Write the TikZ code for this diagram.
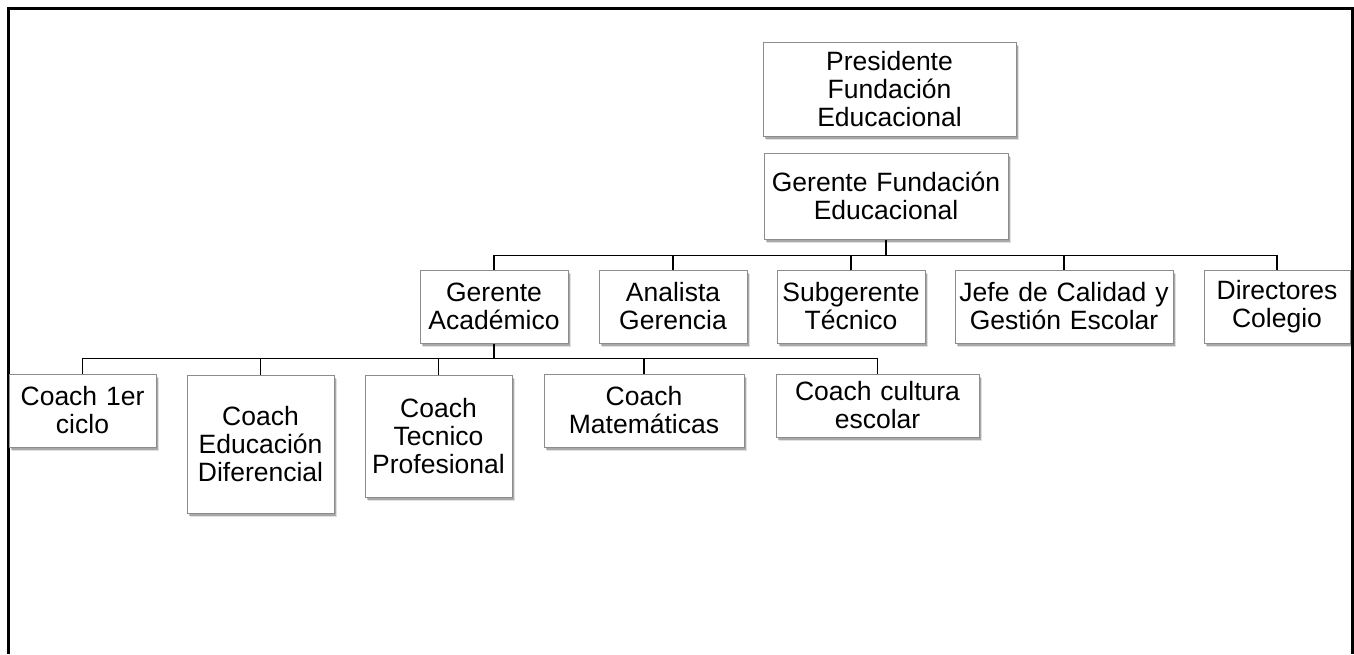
\documentclass[tikz,border=0pt]{standalone}
\usepackage{fontspec}
\setmainfont{Liberation Sans}
\usetikzlibrary{shadows}

\tikzset{
    orgbox/.style={draw=black!45, line width=1pt, fill=white, align=center,
        inner xsep=4pt, inner ysep=0pt,
        font=\fontsize{26.5}{28}\selectfont,
        drop shadow={shadow xshift=2.5pt, shadow yshift=-3.5pt, fill=black, opacity=0.12},
        drop shadow={shadow xshift=1.5pt, shadow yshift=-2.5pt, fill=black, opacity=0.25}},
    orgline/.style={line width=1.8pt, black}
}

\begin{document}
\begin{tikzpicture}[x=1pt, y=-1pt]
    \useasboundingbox (0,0) rectangle (1354,654);
    \draw[line width=3pt] (8,654) -- (8,8) -- (1352,8) -- (1352,654);

    \node[orgbox, text width=245pt, minimum height=94pt] (pres) at (889.5,89) {Presidente\\Fundación\\Educacional};
    \node[orgbox, text width=236pt, minimum height=86pt] (gfund) at (886,196) {Gerente Fundación\\Educacional};

    \node[orgbox, text width=140pt, minimum height=73pt] (gacad) at (494,306.5) {Gerente\\Académico};
    \node[orgbox, text width=140pt, minimum height=73pt] (anal) at (673,306.5) {Analista\\Gerencia};
    \node[orgbox, text width=140pt, minimum height=73pt] (subg) at (851,306.5) {Subgerente\\Técnico};
    \node[orgbox, text width=210pt, minimum height=73pt] (jefe) at (1064,306.5) {Jefe de Calidad y\\Gestión Escolar};
    \node[orgbox, text width=138pt, minimum height=73pt] (dir) at (1277,306.5) {Directores\\Colegio};

    \node[orgbox, text width=139pt, minimum height=73pt] (cprim) at (82.5,410.5) {Coach 1er\\ciclo};
    \node[orgbox, text width=139pt, minimum height=138pt] (cdif) at (260.5,444) {Coach\\Educación\\Diferencial};
    \node[orgbox, text width=139pt, minimum height=122pt] (ctec) at (438.5,436) {Coach\\Tecnico\\Profesional};
    \node[orgbox, text width=192pt, minimum height=73pt] (cmat) at (644,410.5) {Coach\\Matemáticas};
    \node[orgbox, text width=195pt, minimum height=63pt] (ccult) at (877.5,405.5) {Coach cultura\\escolar};

    \draw[orgline] (gfund.south) -- ++(0,16) coordinate (busa);
    \foreach \n in {gacad,anal,subg,jefe,dir}
        \draw[orgline] (\n.north) |- (busa);

    \draw[orgline] (gacad.south) -- ++(0,15) coordinate (busb);
    \foreach \n in {cprim,cdif,ctec,cmat,ccult}
        \draw[orgline] (\n.north) |- (busb);
\end{tikzpicture}
\end{document}
